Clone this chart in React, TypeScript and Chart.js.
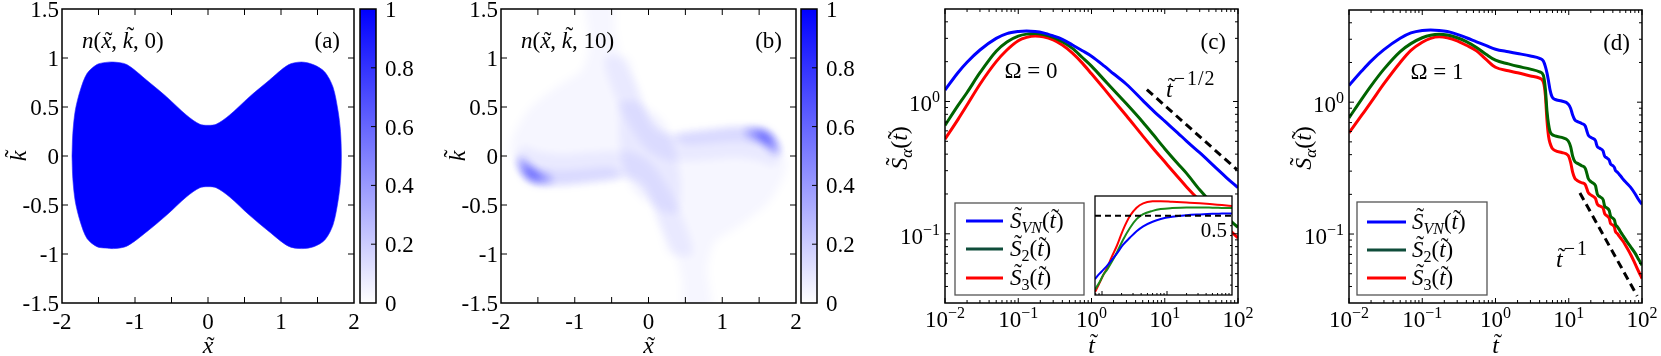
import React, { useEffect, useRef } from "react";
import { Chart, registerables } from "chart.js";

Chart.register(...registerables);

const W = 1661;
const H = 356;
const SERIF = '"Liberation Serif", "Times New Roman", Times, "DejaVu Serif", serif';

// ---------------- Panel (a): boundary of occupied region n(x,k,0) ----------------
const A_UPPER_X = [-1.863, -1.852, -1.818, -1.75, -1.658, -1.522, -1.4, -1.295, -1.112, -0.838, -0.565, -0.292, -0.11, 0.0, 0.11, 0.292, 0.565, 0.838, 1.1, 1.28, 1.45, 1.6, 1.712, 1.78, 1.815, 1.827];
const A_UPPER_K = [0, 0.23, 0.466, 0.67, 0.841, 0.933, 0.955, 0.959, 0.933, 0.772, 0.602, 0.415, 0.323, 0.313, 0.323, 0.415, 0.602, 0.772, 0.93, 0.959, 0.93, 0.857, 0.704, 0.466, 0.25, 0];
const A_LOWER_X = [1.815, 1.78, 1.712, 1.6, 1.45, 1.28, 1.1, 0.838, 0.565, 0.292, 0.11, 0.0, -0.11, -0.292, -0.565, -0.838, -1.112, -1.295, -1.4, -1.522, -1.658, -1.75, -1.818, -1.852, -1.863];
const A_LOWER_K = [-0.25, -0.466, -0.704, -0.857, -0.925, -0.945, -0.92, -0.772, -0.602, -0.415, -0.323, -0.313, -0.323, -0.415, -0.602, -0.772, -0.92, -0.945, -0.94, -0.925, -0.841, -0.67, -0.466, -0.23, 0];

// ---------------- Panel (b): density layers n(x,k,10) ----------------
// envelope of the whole distribution
const B_ENV_X = [-1.82, -1.75, -1.62, -1.45, -1.2, -0.8, -0.45, -0.25, -0.1, 0.0, 0.1, 0.2, 0.35, 0.45, 0.5, 0.85, 0.8, 0.9, 1.2, 1.61, 1.83, 1.88,
  1.82, 1.75, 1.62, 1.45, 1.2, 0.8, 0.45, 0.25, 0.1, 0.0, -0.1, -0.2, -0.35, -0.45, -0.5, -0.85, -0.8, -0.9, -1.2, -1.61, -1.83, -1.88, -1.82];
const B_ENV_K = [-0.02, -0.16, -0.25, -0.29, -0.3, -0.27, -0.24, -0.23, -0.29, -0.4, -0.6, -0.8, -0.98, -1.25, -1.6, -1.6, -1.15, -0.88, -0.73, -0.49, -0.22, -0.05,
  0.02, 0.16, 0.25, 0.29, 0.3, 0.27, 0.24, 0.23, 0.29, 0.4, 0.6, 0.8, 0.98, 1.25, 1.6, 1.6, 1.15, 0.88, 0.73, 0.49, 0.22, 0.05, -0.02];
// wide band along the left arm and the lower stripe
const B_LOW2_X = [-1.82, -1.75, -1.62, -1.45, -1.2, -0.8, -0.45, -0.25, -0.1, 0.0, 0.1, 0.2, 0.3, 0.6, 0.45, 0.25, 0.0, -0.3, -0.8, -1.2, -1.5, -1.7, -1.82];
const B_LOW2_K = [-0.02, -0.16, -0.25, -0.29, -0.3, -0.27, -0.24, -0.23, -0.29, -0.4, -0.6, -0.8, -1.0, -1.0, -0.6, -0.3, -0.05, 0.05, 0.04, 0.02, 0.05, 0.1, -0.02];
// wide band along the right arm and the upper stripe
const B_UP2_X = [1.82, 1.75, 1.62, 1.45, 1.2, 0.8, 0.45, 0.25, 0.1, 0.0, -0.1, -0.2, -0.3, -0.6, -0.45, -0.25, 0.0, 0.3, 0.8, 1.2, 1.5, 1.7, 1.82];
const B_UP2_K = [0.02, 0.16, 0.25, 0.29, 0.3, 0.27, 0.24, 0.23, 0.29, 0.4, 0.6, 0.8, 1.0, 1.0, 0.6, 0.3, 0.05, -0.05, -0.04, -0.02, -0.05, -0.1, 0.02];
// narrow band along the left arm
const B_LOW3_X = [-1.8, -1.75, -1.62, -1.45, -1.2, -0.8, -0.5, -0.35, -0.5, -0.8, -1.2, -1.5, -1.72, -1.8];
const B_LOW3_K = [-0.05, -0.16, -0.25, -0.29, -0.3, -0.27, -0.245, -0.2, -0.12, -0.13, -0.15, -0.12, -0.04, -0.05];
// narrow band along the right arm
const B_UP3_X = [1.8, 1.75, 1.62, 1.45, 1.2, 0.8, 0.5, 0.35, 0.5, 0.8, 1.2, 1.5, 1.72, 1.8];
const B_UP3_K = [0.05, 0.16, 0.25, 0.29, 0.3, 0.27, 0.245, 0.2, 0.12, 0.13, 0.15, 0.12, 0.04, 0.05];
// diagonal central bridge
const B_CEN_X = [-0.42, -0.15, 0.3, 0.42, 0.15, -0.3, -0.42];
const B_CEN_K = [0.55, 0.55, 0.2, -0.55, -0.55, -0.2, 0.55];
// dense spots near the ends of the arms
const B_SPOTR_X = [1.3, 1.5, 1.65, 1.74, 1.76, 1.68, 1.55, 1.35, 1.3];
const B_SPOTR_K = [0.27, 0.28, 0.23, 0.12, 0.02, 0.04, 0.14, 0.2, 0.27];
const B_SPOTL_X = [-1.3, -1.5, -1.65, -1.74, -1.76, -1.68, -1.55, -1.35, -1.3];
const B_SPOTL_K = [-0.27, -0.28, -0.23, -0.12, -0.02, -0.04, -0.14, -0.2, -0.27];
const B_COREF_X = [1.45, 1.6, 1.69, 1.62, 1.48, 1.45];
const B_COREF_K = [0.25, 0.22, 0.11, 0.12, 0.2, 0.25];
const B_COREL_X = [-1.45, -1.6, -1.69, -1.62, -1.48, -1.45];
const B_COREL_K = [-0.25, -0.22, -0.11, -0.12, -0.2, -0.25];

// ---------------- Heat map axes ----------------
const HM_XTICKS = [-2, -1, 0, 1, 2];
const HM_XLABELS = ["-2", "-1", "0", "1", "2"];
const HM_YTICKS = [-1.5, -1, -0.5, 0, 0.5, 1, 1.5];
const HM_YLABELS = ["-1.5", "-1", "-0.5", "0", "0.5", "1", "1.5"];
const CB_TICKS = [0, 0.2, 0.4, 0.6, 0.8, 1];
const CB_LABELS = ["0", "0.2", "0.4", "0.6", "0.8", "1"];

// ---------------- Panel (c): Omega = 0 ----------------
const C_T = [0.01, 0.015, 0.02, 0.03, 0.05, 0.07, 0.1, 0.13, 0.17, 0.22, 0.3, 0.4, 0.55, 0.75, 1, 1.5, 2, 3, 5, 7, 10, 15, 20, 30, 50, 70, 100];
const C_SVN = [1.22, 1.65, 1.98, 2.45, 3.0, 3.26, 3.38, 3.41, 3.38, 3.3, 3.13, 2.95, 2.67, 2.42, 2.2, 1.85, 1.62, 1.35, 1.02, 0.85, 0.71, 0.58, 0.5, 0.41, 0.315, 0.265, 0.223];
const C_S2 = [0.66, 0.93, 1.17, 1.65, 2.4, 2.82, 3.12, 3.23, 3.26, 3.2, 3.05, 2.83, 2.52, 2.15, 1.85, 1.45, 1.22, 0.96, 0.7, 0.56, 0.44, 0.34, 0.285, 0.215, 0.158, 0.133, 0.112];
const C_S3 = [0.52, 0.73, 0.94, 1.35, 2.0, 2.45, 2.88, 3.05, 3.12, 3.08, 2.92, 2.67, 2.32, 1.95, 1.62, 1.24, 1.02, 0.78, 0.55, 0.44, 0.35, 0.27, 0.225, 0.178, 0.136, 0.112, 0.093];
const C_DASH_T = [5.7, 97];
const C_DASH_S = [1.23, 0.305];

// inset of (c)
const I_T = [0.078, 0.09, 0.105, 0.12, 0.14, 0.17, 0.21, 0.27, 0.34, 0.43, 0.6, 0.8, 1.2, 2, 3.2, 5, 7, 10];
const I_SVN = [0.18, 0.205, 0.228, 0.248, 0.275, 0.31, 0.353, 0.39, 0.422, 0.447, 0.47, 0.484, 0.495, 0.503, 0.507, 0.51, 0.511, 0.512];
const I_S2 = [0.128, 0.16, 0.202, 0.228, 0.265, 0.316, 0.378, 0.44, 0.483, 0.508, 0.525, 0.534, 0.539, 0.542, 0.542, 0.541, 0.54, 0.539];
const I_S3 = [0.115, 0.155, 0.202, 0.238, 0.29, 0.35, 0.428, 0.5, 0.541, 0.563, 0.573, 0.574, 0.571, 0.567, 0.563, 0.558, 0.554, 0.55];
const I_DASH_T = [0.078, 10];
const I_DASH_S = [0.5, 0.5];

// ---------------- Panel (d): Omega = 1 ----------------
const D_T = [0.01, 0.015, 0.02, 0.03, 0.05, 0.07, 0.1, 0.13, 0.17, 0.22, 0.3, 0.4, 0.55, 0.75, 1, 1.5, 2, 3,
  4, 4.5, 4.8, 5.05, 5.3, 5.55, 5.9, 6.5, 8, 9.8,
  10.6, 11.3, 12.1, 13, 15, 16.8, 17.6, 18.4, 19.5, 21.5,
  23.2, 23.9, 24.6, 26.5, 29.5, 30.2, 30.9, 33, 35.8, 36.5,
  37.2, 40, 42.2, 42.9, 43.6, 46, 49, 52, 56, 62,
  70, 80, 90, 100];
const D_SVN = [1.34, 1.73, 2.05, 2.5, 3.05, 3.35, 3.5, 3.53, 3.5, 3.43, 3.27, 3.08, 2.87, 2.68, 2.52, 2.41, 2.34, 2.24,
  2.15, 2.05, 1.86, 1.66, 1.44, 1.24, 1.1, 1.05, 1.02, 0.97,
  0.9, 0.8, 0.735, 0.715, 0.69, 0.66, 0.61, 0.565, 0.545, 0.53,
  0.51, 0.48, 0.46, 0.447, 0.425, 0.405, 0.39, 0.378, 0.362, 0.35,
  0.34, 0.33, 0.318, 0.309, 0.302, 0.295, 0.283, 0.272, 0.258, 0.243,
  0.226, 0.203, 0.182, 0.168];
const D_S2 = [0.76, 1.06, 1.33, 1.78, 2.42, 2.78, 3.08, 3.22, 3.27, 3.23, 3.08, 2.88, 2.6, 2.3, 2.08, 1.95, 1.87, 1.78,
  1.7, 1.6, 1.25, 0.85, 0.68, 0.6, 0.57, 0.555, 0.54, 0.51,
  0.46, 0.39, 0.355, 0.345, 0.33, 0.315, 0.29, 0.265, 0.253, 0.243,
  0.232, 0.215, 0.2, 0.192, 0.182, 0.172, 0.163, 0.158, 0.15, 0.143,
  0.137, 0.132, 0.127, 0.122, 0.118, 0.114, 0.108, 0.102, 0.096, 0.088,
  0.08, 0.072, 0.064, 0.058];
const D_S3 = [0.585, 0.8, 1.0, 1.38, 2.0, 2.47, 2.85, 3.05, 3.13, 3.08, 2.92, 2.7, 2.45, 2.1, 1.84, 1.73, 1.67, 1.58,
  1.52, 1.42, 1.12, 0.72, 0.55, 0.49, 0.45, 0.43, 0.415, 0.395,
  0.35, 0.295, 0.265, 0.255, 0.245, 0.237, 0.222, 0.207, 0.2, 0.193,
  0.186, 0.176, 0.168, 0.163, 0.157, 0.15, 0.143, 0.138, 0.131, 0.125,
  0.12, 0.117, 0.112, 0.107, 0.104, 0.101, 0.096, 0.092, 0.087, 0.079,
  0.07, 0.06, 0.052, 0.046];
const D_DASH_T = [14.2, 86];
const D_DASH_S = [0.205, 0.0339];

// log axes
const LOG_XTICKS = [0.01, 0.1, 1, 10, 100];
const LOG_XEXP = ["\u22122", "\u22121", "0", "1", "2"];
const LOG_YTICKS = [0.1, 1];
const LOG_YEXP = ["\u22121", "0"];

const BLUE = "#0000ff";
const GREEN = "#006400";
const RED = "#ff0000";

type Run = { t: string; it?: boolean; sz?: number; dy?: number; til?: number; gap?: number };

function font(sz: number, it?: boolean) {
  return `${it ? "italic " : ""}${sz}px ${SERIF}`;
}

function drawRuns(ctx: CanvasRenderingContext2D, runs: Run[], x: number, y: number, base: number, align = "left", rot = 0) {
  ctx.save();
  ctx.translate(x, y);
  if (rot) ctx.rotate(rot);
  ctx.textBaseline = "alphabetic";
  ctx.textAlign = "left";
  ctx.fillStyle = "#000";
  const ws = runs.map((r) => {
    ctx.font = font(r.sz ?? base, r.it);
    return ctx.measureText(r.t).width + (r.gap ?? 0);
  });
  const total = ws.reduce((a, b) => a + b, 0);
  let cx = align === "left" ? 0 : align === "center" ? -total / 2 : -total;
  runs.forEach((r, i) => {
    const s = r.sz ?? base;
    const yy = -(r.dy ?? 0);
    ctx.font = font(s, r.it);
    ctx.fillText(r.t, cx, yy);
    if (r.til !== undefined) {
      const gw = ws[i] - (r.gap ?? 0);
      ctx.font = font(s, false);
      const tw = ctx.measureText("\u02DC").width;
      const c = cx + gw / 2 + (r.it ? s * 0.1 : 0);
      ctx.fillText("\u02DC", c - tw / 2, yy - r.til * s);
    }
    cx += ws[i];
  });
  ctx.restore();
}

function seg(ctx: CanvasRenderingContext2D, x1: number, y1: number, x2: number, y2: number) {
  ctx.beginPath();
  ctx.moveTo(x1, y1);
  ctx.lineTo(x2, y2);
  ctx.stroke();
}

function frame(chart: any, lw = 1.5) {
  const { ctx, chartArea: a } = chart;
  ctx.save();
  ctx.strokeStyle = "#000";
  ctx.lineWidth = lw;
  ctx.strokeRect(a.left, a.top, a.right - a.left, a.bottom - a.top);
  ctx.restore();
}

function ticksX(chart: any, vals: number[], len: number, both = true) {
  const { ctx, chartArea: a } = chart;
  const sx = chart.scales.x;
  ctx.save();
  ctx.strokeStyle = "#000";
  ctx.lineWidth = 1;
  vals.forEach((v) => {
    const p = sx.getPixelForValue(v);
    seg(ctx, p, a.bottom, p, a.bottom - len);
    if (both) seg(ctx, p, a.top, p, a.top + len);
  });
  ctx.restore();
}

function ticksY(chart: any, vals: number[], len: number, left = true, right = true) {
  const { ctx, chartArea: a } = chart;
  const sy = chart.scales.y;
  ctx.save();
  ctx.strokeStyle = "#000";
  ctx.lineWidth = 1;
  vals.forEach((v) => {
    const p = sy.getPixelForValue(v);
    if (left) seg(ctx, a.left, p, a.left + len, p);
    if (right) seg(ctx, a.right, p, a.right - len, p);
  });
  ctx.restore();
}

function pts(xs: number[], ys: number[]) {
  return xs.map((x, i) => ({ x, y: ys[i] }));
}

function minorLog(decadesFrom: number, decadesTo: number, lo: number, hi: number) {
  const out: number[] = [];
  for (let d = decadesFrom; d <= decadesTo; d++) {
    for (let m = 2; m <= 9; m++) {
      const v = m * Math.pow(10, d);
      if (v > lo && v < hi) out.push(v);
    }
  }
  return out;
}

function legendBox(ctx: CanvasRenderingContext2D, x0: number, y0: number, x1: number, y1: number, sx0: number, sx1: number, tx: number, rowsY: number[]) {
  ctx.save();
  ctx.fillStyle = "#fff";
  ctx.fillRect(x0, y0, x1 - x0, y1 - y0);
  ctx.strokeStyle = "#555";
  ctx.lineWidth = 1.3;
  ctx.strokeRect(x0, y0, x1 - x0, y1 - y0);
  const cols = [BLUE, "#0f4d3a", RED];
  const subs = ["VN", "2", "3"];
  rowsY.forEach((ry, i) => {
    ctx.strokeStyle = cols[i];
    ctx.lineWidth = 3;
    seg(ctx, sx0, ry, sx1, ry);
    drawRuns(ctx, [
      { t: "S", it: true, til: 0.22 },
      { t: subs[i], it: i === 0, sz: 16, dy: -5 },
      { t: "(" },
      { t: "t", it: true, til: 0.12 },
      { t: ")" },
    ], tx, ry + 7, 23, "left");
  });
  ctx.restore();
}

function heatPlugin(panel: "a" | "b") {
  return {
    id: "heat" + panel,
    beforeDatasetsDraw(chart: any) {
      if (panel === "b") {
        chart.ctx.save();
        chart.ctx.filter = "blur(4px)";
      }
    },
    afterDatasetsDraw(chart: any) {
      if (panel === "b") chart.ctx.restore();
    },
    afterDraw(chart: any) {
      const ctx = chart.ctx as CanvasRenderingContext2D;
      const a = chart.chartArea;
      frame(chart);
      ticksX(chart, [-1.5, -1, -0.5, 0, 0.5, 1, 1.5], 6);
      ticksY(chart, [-1, -0.5, 0, 0.5, 1], 6);
      HM_XTICKS.forEach((v, i) => drawRuns(ctx, [{ t: HM_XLABELS[i] }], chart.scales.x.getPixelForValue(v), 329, 23, "center"));
      HM_YTICKS.forEach((v, i) => drawRuns(ctx, [{ t: HM_YLABELS[i] }], a.left - 3, chart.scales.y.getPixelForValue(v) + 8, 23, "right"));
      const last = panel === "a" ? "0)" : "10)";
      drawRuns(ctx, [
        { t: "n", it: true },
        { t: "(" },
        { t: "x", it: true, til: 0 },
        { t: ", " },
        { t: "k", it: true, til: 0.2 },
        { t: ", " + last },
      ], a.left + 20, 48, 23, "left");
      drawRuns(ctx, [{ t: panel === "a" ? "(a)" : "(b)" }], a.right - 14, 48, 23, "right");
      drawRuns(ctx, [{ t: "x", it: true, til: 0 }], (a.left + a.right) / 2, 353, 24, "center");
      drawRuns(ctx, [{ t: "k", it: true, til: 0.2 }], a.left - 36, (a.top + a.bottom) / 2, 24, "center", -Math.PI / 2);
    },
  };
}

function cbPlugin() {
  return {
    id: "cb",
    afterDraw(chart: any) {
      const ctx = chart.ctx as CanvasRenderingContext2D;
      const a = chart.chartArea;
      frame(chart);
      ticksY(chart, [0.2, 0.4, 0.6, 0.8], 5, false, true);
      CB_TICKS.forEach((v, i) => drawRuns(ctx, [{ t: CB_LABELS[i] }], a.right + 9, chart.scales.y.getPixelForValue(v) + 8, 23, "left"));
    },
  };
}

function logPanelPlugin(panel: "c" | "d") {
  return {
    id: "log" + panel,
    afterDraw(chart: any) {
      const ctx = chart.ctx as CanvasRenderingContext2D;
      const a = chart.chartArea;
      frame(chart);
      ticksX(chart, LOG_XTICKS, 5);
      ticksX(chart, minorLog(-2, 1, 0.01, 100), 3);
      ticksY(chart, LOG_YTICKS, 5);
      ticksY(chart, minorLog(-2, 0, 0.03, 5), 3);
      LOG_XTICKS.forEach((v, i) =>
        drawRuns(ctx, [{ t: "10" }, { t: LOG_XEXP[i], sz: 16, dy: 9 }], chart.scales.x.getPixelForValue(v), 327, 23, "center"));
      LOG_YTICKS.forEach((v, i) =>
        drawRuns(ctx, [{ t: "10" }, { t: LOG_YEXP[i], sz: 16, dy: 9 }], a.left - 5, chart.scales.y.getPixelForValue(v) + 10, 23, "right"));
      const cx = (a.left + a.right) / 2;
      drawRuns(ctx, [{ t: "t", it: true, til: 0.12 }], cx, 353, 24, "center");
      drawRuns(ctx, [
        { t: "S", it: true, til: 0.22 },
        { t: "\u03B1", it: true, sz: 17, dy: -5 },
        { t: "(" },
        { t: "t", it: true, til: 0.12 },
        { t: ")" },
      ], a.left - 38, 148, 24, "center", -Math.PI / 2);
      if (panel === "c") {
        drawRuns(ctx, [{ t: "\u03A9 = 0" }], 1031, 78, 23, "center");
        drawRuns(ctx, [{ t: "(c)" }], 1226, 49, 23, "right");
        drawRuns(ctx, [
          { t: "t", it: true, til: 0.12, gap: 1 },
          { t: "\u2212", sz: 20, dy: 12, gap: 2 },
          { t: "1", sz: 20, dy: 12, gap: 1 },
          { t: "/", sz: 20, dy: 12, gap: 1 },
          { t: "2", sz: 20, dy: 12 },
        ], 1166, 97, 24, "left");
        legendBox(ctx, 955, 203, 1084, 295, 966, 1003, 1010, [221, 249, 278]);
      } else {
        drawRuns(ctx, [{ t: "\u03A9 = 1" }], 1437, 79, 23, "center");
        drawRuns(ctx, [{ t: "(d)" }], 1630, 50, 23, "right");
        drawRuns(ctx, [
          { t: "t", it: true, til: 0.12, gap: 1 },
          { t: "\u2212", sz: 20, dy: 12, gap: 2 },
          { t: "1", sz: 20, dy: 12 },
        ], 1556, 267, 24, "left");
        legendBox(ctx, 1357, 202, 1487, 295, 1367, 1406, 1412, [222, 250, 278]);
      }
    },
  };
}

function insetPlugin() {
  return {
    id: "inset",
    beforeDraw(chart: any) {
      const { ctx, chartArea: a } = chart;
      ctx.save();
      ctx.fillStyle = "#fff";
      ctx.fillRect(a.left, a.top, a.right - a.left, a.bottom - a.top);
      ctx.restore();
    },
    afterDraw(chart: any) {
      const ctx = chart.ctx as CanvasRenderingContext2D;
      const a = chart.chartArea;
      frame(chart, 1.3);
      ticksX(chart, [0.1, 1], 4, false);
      ticksX(chart, minorLog(-2, 0, 0.078, 10), 2, false);
      ticksY(chart, [0.15, 0.2, 0.25, 0.3, 0.35, 0.4, 0.45], 2, false, true);
      drawRuns(ctx, [{ t: "0.5" }], a.right - 5, 237, 21, "right");
    },
  };
}

function baseOptions(pad: any, scales: any) {
  return {
    responsive: false,
    animation: false,
    devicePixelRatio: 1,
    events: [],
    layout: { padding: pad },
    plugins: { legend: { display: false }, tooltip: { enabled: false } },
    scales,
  };
}

function polyDs(xs: number[], ks: number[], color: string, tension = 0.4) {
  return {
    data: pts(xs, ks),
    fill: "shape",
    backgroundColor: color,
    borderColor: "rgba(0,0,0,0)",
    borderWidth: 0,
    pointRadius: 0,
    tension,
  };
}

function lineDs(xs: number[], ys: number[], color: string, width: number, dash?: number[]) {
  return {
    data: pts(xs, ys),
    borderColor: color,
    borderWidth: width,
    borderDash: dash ?? [],
    pointRadius: 0,
    fill: false,
    cubicInterpolationMode: "monotone",
  };
}

function gradient(c: any) {
  const ch = c.chart;
  const a = ch.chartArea;
  if (!a) return "#8080ff";
  const g = ch.ctx.createLinearGradient(0, a.bottom, 0, a.top);
  g.addColorStop(0, "#ffffff");
  g.addColorStop(1, "#0000ff");
  return g;
}

function buildConfigs(): any[] {
  const hmScales = {
    x: { type: "linear", min: -2, max: 2, display: false },
    y: { type: "linear", min: -1.5, max: 1.5, display: false },
  };
  const logScales = {
    x: { type: "logarithmic", min: 0.01, max: 100, display: false },
    y: { type: "logarithmic", min: 0.03, max: 5, display: false },
  };
  const cbScales = {
    x: { type: "category", display: false },
    y: { type: "linear", min: 0, max: 1, display: false },
  };
  const cbData = {
    labels: ["n"],
    datasets: [{ data: [[0, 1]], backgroundColor: gradient, barPercentage: 1, categoryPercentage: 1, borderWidth: 0 }],
  };
  const aPoly = [...A_UPPER_X, ...A_LOWER_X];
  const aPolyK = [...A_UPPER_K, ...A_LOWER_K];
  return [
    {
      type: "line",
      data: {
        datasets: [{ ...polyDs(aPoly, aPolyK, BLUE, 0.3), borderColor: "rgba(40,40,255,0.6)", borderWidth: 1 }],
      },
      options: baseOptions({ left: 62, right: W - 354, top: 9, bottom: H - 303 }, hmScales),
      plugins: [heatPlugin("a")],
    },
    {
      type: "bar",
      data: cbData,
      options: baseOptions({ left: 360, right: W - 376, top: 9, bottom: H - 303 }, cbScales),
      plugins: [cbPlugin()],
    },
    {
      type: "line",
      data: {
        datasets: [
          polyDs(B_ENV_X, B_ENV_K, "rgba(0,0,255,0.035)", 0.25),
          polyDs(B_LOW2_X, B_LOW2_K, "rgba(0,0,255,0.055)", 0.3),
          polyDs(B_UP2_X, B_UP2_K, "rgba(0,0,255,0.055)", 0.3),
          polyDs(B_LOW3_X, B_LOW3_K, "rgba(0,0,255,0.07)", 0.3),
          polyDs(B_UP3_X, B_UP3_K, "rgba(0,0,255,0.07)", 0.3),
          polyDs(B_CEN_X, B_CEN_K, "rgba(0,0,255,0.06)", 0.4),
          polyDs(B_SPOTR_X, B_SPOTR_K, "rgba(0,0,255,0.3)"),
          polyDs(B_SPOTL_X, B_SPOTL_K, "rgba(0,0,255,0.3)"),
          polyDs(B_COREF_X, B_COREF_K, "rgba(0,0,255,0.4)"),
          polyDs(B_COREL_X, B_COREL_K, "rgba(0,0,255,0.4)"),
        ],
      },
      options: baseOptions({ left: 501, right: W - 796, top: 9, bottom: H - 303 }, hmScales),
      plugins: [heatPlugin("b")],
    },
    {
      type: "bar",
      data: cbData,
      options: baseOptions({ left: 801, right: W - 817, top: 9, bottom: H - 303 }, cbScales),
      plugins: [cbPlugin()],
    },
    {
      type: "line",
      data: {
        datasets: [
          lineDs(C_T, C_SVN, BLUE, 3),
          lineDs(C_T, C_S2, GREEN, 3),
          lineDs(C_T, C_S3, RED, 3),
          lineDs(C_DASH_T, C_DASH_S, "#000", 3, [8, 5]),
        ],
      },
      options: baseOptions({ left: 945, right: W - 1238, top: 9, bottom: H - 303 }, logScales),
      plugins: [logPanelPlugin("c")],
    },
    {
      type: "line",
      data: {
        datasets: [
          lineDs(I_DASH_T, I_DASH_S, "#000", 2, [6, 4]),
          lineDs(I_T, I_SVN, BLUE, 2),
          lineDs(I_T, I_S2, "#1a8a1a", 2),
          lineDs(I_T, I_S3, RED, 2),
        ],
      },
      options: baseOptions({ left: 1095, right: W - 1232, top: 196, bottom: H - 295 }, {
        x: { type: "logarithmic", min: 0.078, max: 10, display: false },
        y: { type: "linear", min: 0.1, max: 0.6, display: false },
      }),
      plugins: [insetPlugin()],
    },
    {
      type: "line",
      data: {
        datasets: [
          lineDs(D_T, D_SVN, BLUE, 3),
          lineDs(D_T, D_S2, GREEN, 3),
          lineDs(D_T, D_S3, RED, 3),
          lineDs(D_DASH_T, D_DASH_S, "#000", 3, [8, 5]),
        ],
      },
      options: baseOptions({ left: 1349, right: W - 1642, top: 10, bottom: H - 303 }, logScales),
      plugins: [logPanelPlugin("d")],
    },
  ];
}

const N_CANVAS = 7;

export default function App() {
  const refs = useRef<(HTMLCanvasElement | null)[]>([]);
  useEffect(() => {
    document.body.style.margin = "0";
    const cfgs = buildConfigs();
    const charts = cfgs.map((cfg, i) => new Chart(refs.current[i] as HTMLCanvasElement, cfg));
    return () => charts.forEach((c) => c.destroy());
  }, []);
  return (
    <div style={{ position: "relative", width: W, height: H, background: "#fff", overflow: "hidden" }}>
      {Array.from({ length: N_CANVAS }).map((_, i) => (
        <canvas
          key={i}
          ref={(el) => {
            refs.current[i] = el;
          }}
          width={W}
          height={H}
          style={{ position: "absolute", left: 0, top: 0, width: W, height: H }}
        />
      ))}
    </div>
  );
}
